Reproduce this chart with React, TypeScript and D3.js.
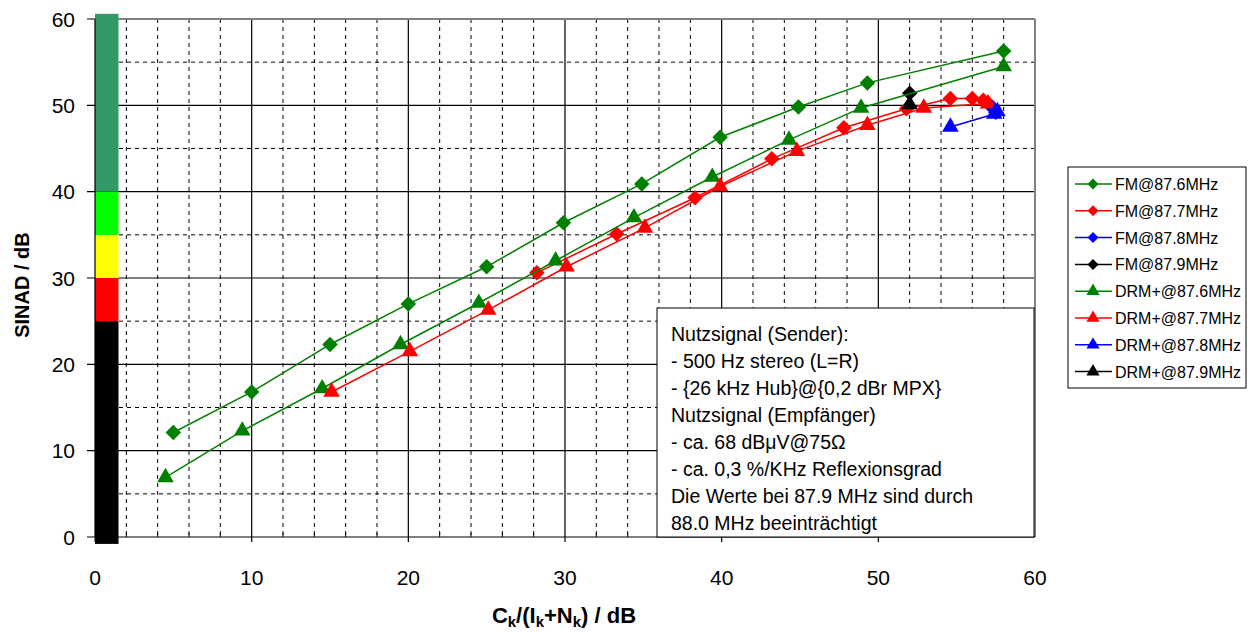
import React, { useEffect, useRef } from "react";
import * as d3 from "d3";

// axis ticks
const xTicks = [0, 10, 20, 30, 40, 50, 60];
const yTicks = [0, 10, 20, 30, 40, 50, 60];

// measured points [C/(I+N) dB, SINAD dB]
const fm876 = [[5.0, 12.1], [10.0, 16.8], [15.0, 22.3], [20.0, 27.0], [25.0, 31.3], [29.9, 36.4], [34.9, 40.9], [39.9, 46.3], [44.9, 49.8], [49.3, 52.6], [58.0, 56.3]];
const fm877 = [[28.2, 30.6], [33.3, 35.1], [38.3, 39.3], [43.2, 43.8], [47.8, 47.4], [51.8, 49.6], [54.6, 50.8], [56.0, 50.8], [56.7, 50.6], [57.0, 50.3]];
const fm878 = [[57.3, 49.7], [57.5, 49.2]];
const fm879 = [[52.0, 51.4]];
const drm876 = [[4.5, 6.9], [9.4, 12.3], [14.5, 17.2], [19.5, 22.3], [24.5, 27.1], [29.4, 32.0], [34.4, 37.0], [39.4, 41.7], [44.3, 46.0], [48.9, 49.7], [58.0, 54.5]];
const drm877 = [[15.1, 16.8], [20.1, 21.5], [25.1, 26.3], [30.1, 31.3], [35.1, 35.8], [39.9, 40.6], [44.8, 44.7], [49.3, 47.7], [52.9, 49.7], [57.0, 50.2]];
const drm878 = [[54.6, 47.5], [57.4, 49.0], [57.6, 49.3]];
const drm879 = [[52.0, 50.1]];

const seriesNames = ["FM@87.6MHz", "FM@87.7MHz", "FM@87.8MHz", "FM@87.9MHz", "DRM+@87.6MHz", "DRM+@87.7MHz", "DRM+@87.8MHz", "DRM+@87.9MHz"];
const seriesData = [fm876, fm877, fm878, fm879, drm876, drm877, drm878, drm879];

// quality band on the left (SINAD limits)
const bandLimits = [-0.8, 25, 30, 35, 40, 60.6];
const bandColors = ["#000000", "#ff0000", "#ffff00", "#00ff00", "#339966"];

const noteLines = [
  "Nutzsignal (Sender):",
  "- 500 Hz stereo (L=R)",
  "- {26 kHz Hub}@{0,2 dBr MPX}",
  "Nutzsignal (Empfänger)",
  "- ca. 68 dBμV@75Ω",
  "- ca. 0,3 %/KHz Reflexionsgrad",
  "Die Werte bei 87.9 MHz sind durch",
  "88.0 MHz beeinträchtigt",
];

const W = 1253;
const H = 632;
const FONT = "'Liberation Sans', Arial, sans-serif";

export default function App() {
  const svgRef = useRef<SVGSVGElement>(null);

  useEffect(() => {
    document.body.style.margin = "0";
    const svg = d3.select(svgRef.current);
    svg.selectAll("*").remove();

    const x = d3.scaleLinear().domain([0, 60]).range([95, 1035]);
    const y = d3.scaleLinear().domain([0, 60]).range([537, 19]);

    const colors = ["#008000", "#ff0000", "#0000ff", "#000000"];

    svg.append("rect").attr("width", W).attr("height", H).attr("fill", "#fff");

    // minor dashed grid
    const grid = svg.append("g");
    grid.selectAll("line.vx")
      .data(d3.range(2, 60, 2).filter(v => v % 10 !== 0))
      .enter().append("line")
      .attr("x1", d => x(d)).attr("x2", d => x(d))
      .attr("y1", y(60)).attr("y2", y(0))
      .attr("stroke", "#000").attr("stroke-dasharray", "4,4").attr("stroke-width", 1);
    grid.selectAll("line.hy")
      .data([5, 15, 25, 35, 45, 55])
      .enter().append("line")
      .attr("x1", x(0)).attr("x2", x(60))
      .attr("y1", d => y(d)).attr("y2", d => y(d))
      .attr("stroke", "#000").attr("stroke-dasharray", "4,4").attr("stroke-width", 1);

    // major solid grid
    grid.selectAll("line.mx")
      .data(xTicks.slice(1, -1))
      .enter().append("line")
      .attr("x1", d => x(d)).attr("x2", d => x(d))
      .attr("y1", y(60)).attr("y2", y(0) + 5)
      .attr("stroke", "#000").attr("stroke-width", 1.2);
    grid.selectAll("line.my")
      .data(yTicks.slice(1))
      .enter().append("line")
      .attr("x1", x(0) - 8).attr("x2", x(60))
      .attr("y1", d => y(d)).attr("y2", d => y(d))
      .attr("stroke", d => (d === 60 ? "#808080" : "#000")).attr("stroke-width", d => (d === 60 ? 2 : 1.2));

    // right border
    svg.append("line")
      .attr("x1", x(60)).attr("x2", x(60)).attr("y1", y(60)).attr("y2", y(0))
      .attr("stroke", "#808080").attr("stroke-width", 2);

    // quality band
    svg.selectAll("rect.band")
      .data(bandColors)
      .enter().append("rect")
      .attr("x", x(0)).attr("width", x(1.5) - x(0))
      .attr("y", (_, i) => y(bandLimits[i + 1]))
      .attr("height", (_, i) => y(bandLimits[i]) - y(bandLimits[i + 1]))
      .attr("fill", d => d);

    // axes
    svg.append("line")
      .attr("x1", x(0)).attr("x2", x(0)).attr("y1", y(60)).attr("y2", y(0))
      .attr("stroke", "#000").attr("stroke-width", 1.2);
    svg.append("line")
      .attr("x1", x(0) - 8).attr("x2", x(60)).attr("y1", y(0)).attr("y2", y(0))
      .attr("stroke", "#000").attr("stroke-width", 1.2);
    svg.selectAll("line.minor")
      .data(d3.range(2, 60, 2).filter(v => v % 10 !== 0))
      .enter().append("line")
      .attr("x1", d => x(d)).attr("x2", d => x(d))
      .attr("y1", y(0)).attr("y2", y(0) - 4)
      .attr("stroke", "#000");
    svg.append("line")
      .attr("x1", x(0)).attr("x2", x(0)).attr("y1", y(0)).attr("y2", y(0) + 5)
      .attr("stroke", "#000");

    svg.selectAll("text.xt")
      .data(xTicks)
      .enter().append("text")
      .attr("x", d => x(d)).attr("y", 585)
      .attr("text-anchor", "middle")
      .style("font-family", FONT).style("font-size", "21px")
      .text(d => d);
    svg.selectAll("text.yt")
      .data(yTicks)
      .enter().append("text")
      .attr("x", 75).attr("y", d => y(d) + 7.5)
      .attr("text-anchor", "end")
      .style("font-family", FONT).style("font-size", "21px")
      .text(d => d);

    // axis titles
    svg.append("text")
      .attr("transform", "translate(29,285) rotate(-90)")
      .attr("text-anchor", "middle")
      .style("font-family", FONT).style("font-size", "20px").style("font-weight", "bold")
      .text("SINAD / dB");
    const xt = svg.append("text")
      .attr("x", 564).attr("y", 623)
      .attr("text-anchor", "middle")
      .style("font-family", FONT).style("font-size", "22px").style("font-weight", "bold");
    const parts: [string, number, number][] = [["C", 0, 22], ["k", 4, 15], ["/(I", -4, 22], ["k", 4, 15], ["+N", -4, 22], ["k", 4, 15], [") / dB", -4, 22]];
    parts.forEach(([t, dy, fs]) => {
      xt.append("tspan").attr("dy", dy).style("font-size", `${fs}px`).text(t);
    });

    // series
    const diamond = d3.symbol().type(d3.symbolSquare).size(120);
    const triangle = d3.symbol().type(d3.symbolTriangle).size(120);
    const line = d3.line<number[]>().x(d => x(d[0])).y(d => y(d[1]));

    seriesData.forEach((pts, i) => {
      const color = colors[i % 4];
      const isTri = i >= 4;
      const g = svg.append("g");
      g.append("path")
        .attr("d", line(pts))
        .attr("fill", "none").attr("stroke", color).attr("stroke-width", 1.5);
      g.selectAll("path.m")
        .data(pts)
        .enter().append("path")
        .attr("d", isTri ? triangle() : diamond())
        .attr("transform", d => `translate(${x(d[0])},${y(d[1])})${isTri ? "" : " rotate(45)"}`)
        .attr("fill", color);
    });

    // note box
    const note = svg.append("g");
    note.append("rect")
      .attr("x", 657).attr("y", 308).attr("width", 377).attr("height", 229)
      .attr("fill", "#fff").attr("stroke", "#000").attr("stroke-width", 1);
    note.selectAll("text")
      .data(noteLines)
      .enter().append("text")
      .attr("x", 671).attr("y", (_, i) => 341 + i * 27)
      .style("font-family", FONT).style("font-size", "19.5px")
      .text(d => d);

    // legend
    const lg = svg.append("g");
    lg.append("rect")
      .attr("x", 1068).attr("y", 167).attr("width", 178).attr("height", 221)
      .attr("fill", "#fff").attr("stroke", "#000").attr("stroke-width", 1);
    seriesNames.forEach((name, i) => {
      const cy = 184 + i * 26.8;
      const color = colors[i % 4];
      const isTri = i >= 4;
      lg.append("line")
        .attr("x1", 1075).attr("x2", 1112).attr("y1", cy).attr("y2", cy)
        .attr("stroke", color).attr("stroke-width", 1.5);
      lg.append("path")
        .attr("d", isTri ? d3.symbol().type(d3.symbolTriangle).size(75)() : d3.symbol().type(d3.symbolSquare).size(60)())
        .attr("transform", `translate(1093,${cy})${isTri ? "" : " rotate(45)"}`)
        .attr("fill", color);
      lg.append("text")
        .attr("x", 1115).attr("y", cy + 6)
        .style("font-family", FONT).style("font-size", "16px")
        .text(name);
    });
  }, []);

  return <svg ref={svgRef} width={W} height={H} style={{ display: "block" }} />;
}
